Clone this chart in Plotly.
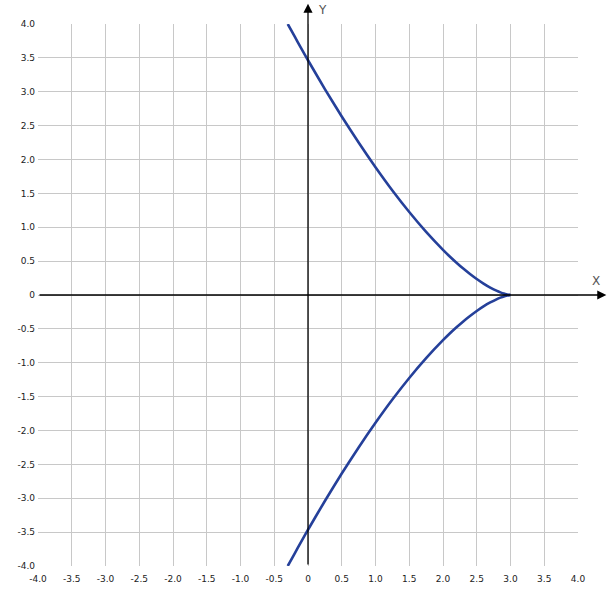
import plotly.graph_objects as go

# Curve points (upper branch, x -> y); lower branch is the mirror
x_upper = [-0.3, -0.2, -0.1, 0.0, 0.25, 0.5, 0.75, 1.0, 1.25, 1.5, 1.75, 2.0, 2.1, 2.2, 2.3,
           2.4, 2.5, 2.6, 2.7, 2.8, 2.85, 2.9, 2.95, 2.98, 3.0]
y_upper = [4.0, 3.82, 3.64, 3.465, 3.04, 2.635, 2.25, 1.886, 1.543, 1.225, 0.932, 0.667, 0.569, 0.477, 0.390,
           0.310, 0.236, 0.169, 0.110, 0.060, 0.039, 0.021, 0.0075, 0.0019, 0.0]
x_lower = [3.0, 2.98, 2.95, 2.9, 2.85, 2.8, 2.7, 2.6, 2.5, 2.4, 2.3, 2.2, 2.1, 2.0,
           1.75, 1.5, 1.25, 1.0, 0.75, 0.5, 0.25, 0.0, -0.1, -0.2, -0.3]
y_lower = [0.0, -0.0019, -0.0075, -0.021, -0.039, -0.060, -0.110, -0.169, -0.236, -0.310, -0.390, -0.477, -0.569, -0.667,
           -0.932, -1.225, -1.543, -1.886, -2.25, -2.635, -3.04, -3.465, -3.64, -3.82, -4.0]

tick_vals = [-4.0, -3.5, -3.0, -2.5, -2.0, -1.5, -1.0, -0.5, 0.0, 0.5, 1.0, 1.5, 2.0, 2.5, 3.0, 3.5, 4.0]
tick_text = ["-4.0", "-3.5", "-3.0", "-2.5", "-2.0", "-1.5", "-1.0", "-0.5", "0", "0.5", "1.0", "1.5", "2.0", "2.5", "3.0", "3.5", "4.0"]

axis_labels = ["X", "Y"]

curve_color = "#25409a"
font_family = "DejaVu Sans"

fig = go.Figure()
fig.add_trace(go.Scatter(x=x_upper, y=y_upper, mode="lines",
                         line=dict(color=curve_color, width=2.6, shape="spline", smoothing=0.6),
                         showlegend=False, hoverinfo="skip"))
fig.add_trace(go.Scatter(x=x_lower, y=y_lower, mode="lines",
                         line=dict(color=curve_color, width=2.6, shape="spline", smoothing=0.6),
                         showlegend=False, hoverinfo="skip"))

common_axis = dict(range=[-4, 4], tickmode="array", tickvals=tick_vals, ticktext=tick_text,
                   showgrid=True, gridcolor="#c8c8c8", gridwidth=1, zeroline=False,
                   showline=False, ticks="", tickfont=dict(family=font_family, size=9, color="#222"),
                   fixedrange=True)

fig.update_xaxes(**common_axis, ticklabelstandoff=6)
fig.update_yaxes(**common_axis, ticklabelstandoff=2)

# Axis arrows through the origin
fig.add_annotation(x=4.42, y=0, ax=-4, ay=0, xref="x", yref="y", axref="x", ayref="y",
                   showarrow=True, arrowhead=2, arrowsize=1.4, arrowwidth=1.3,
                   arrowcolor="#000", text="", standoff=0, startstandoff=0)
fig.add_annotation(x=0, y=4.3, ax=0, ay=-4, xref="x", yref="y", axref="x", ayref="y",
                   showarrow=True, arrowhead=2, arrowsize=1.4, arrowwidth=1.3,
                   arrowcolor="#000", text="", standoff=0, startstandoff=0)

fig.add_annotation(x=1.044, y=0.526, xref="paper", yref="paper", text=axis_labels[0], showarrow=False,
                   font=dict(family=font_family, size=12, color="#555"))
fig.add_annotation(x=0.526, y=1.043, xref="paper", yref="paper", text=axis_labels[1], showarrow=False,
                   font=dict(family=font_family, size=12, color="#555"))

fig.update_layout(width=607, height=603, margin=dict(l=38, r=29, t=24, b=37),
                  plot_bgcolor="white", paper_bgcolor="white")

fig.write_html("out.html", config={"displayModeBar": False},
               post_script="document.body.style.margin='0';")
